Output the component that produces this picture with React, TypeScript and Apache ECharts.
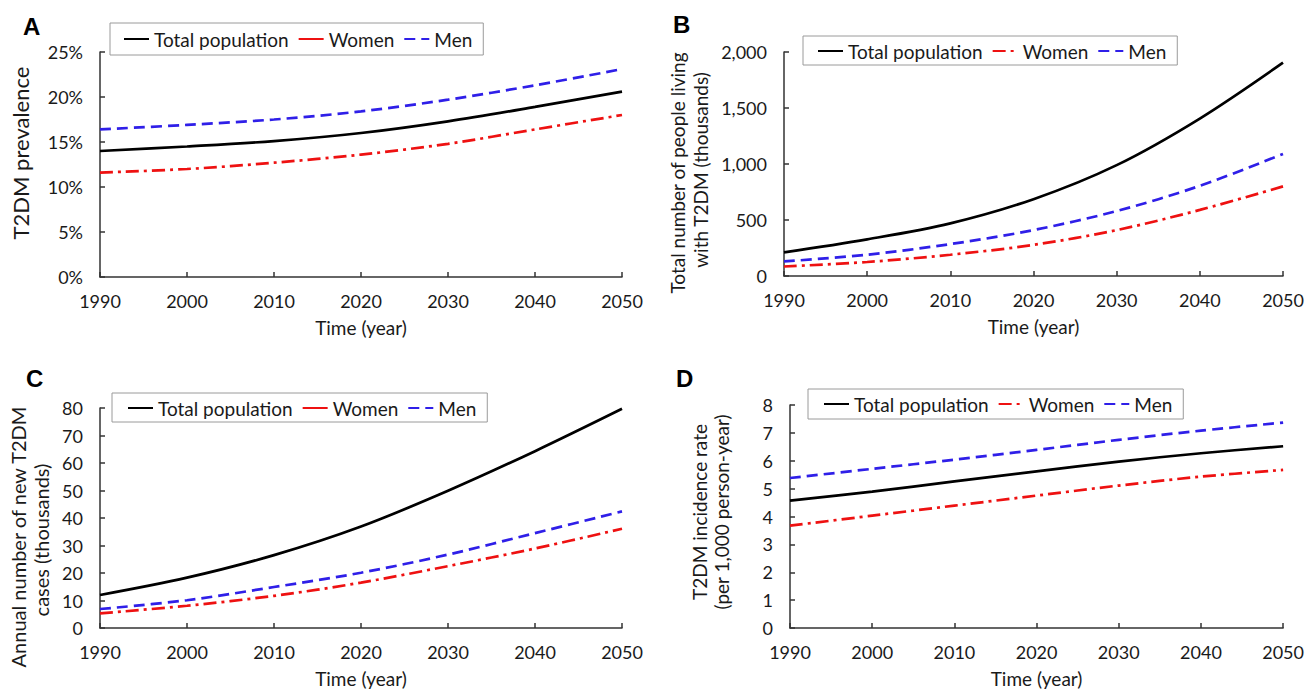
import React, { useEffect, useRef } from "react";
import * as echarts from "echarts";

const YEARS = [1990, 2000, 2010, 2020, 2030, 2040, 2050];

// Panel A: T2DM prevalence (%)
const A_TOTAL = [14.0, 14.5, 15.1, 16.0, 17.3, 18.9, 20.6];
const A_WOMEN = [11.6, 12.0, 12.7, 13.6, 14.8, 16.4, 18.0];
const A_MEN = [16.4, 16.9, 17.5, 18.4, 19.7, 21.3, 23.1];

// Panel B: total number living with T2DM (thousands)
const B_TOTAL = [211, 327, 470, 686, 990, 1406, 1905];
const B_WOMEN = [85, 125, 190, 278, 410, 590, 800];
const B_MEN = [130, 190, 285, 410, 580, 805, 1090];

// Panel C: annual number of new T2DM cases (thousands)
const C_TOTAL = [12.0, 18.3, 26.5, 36.9, 49.9, 64.3, 79.7];
const C_WOMEN = [5.3, 8.1, 11.7, 16.5, 22.5, 28.9, 36.1];
const C_MEN = [6.9, 10.1, 14.9, 20.1, 26.7, 34.5, 42.4];

// Panel D: T2DM incidence rate (per 1,000 person-year)
const D_TOTAL = [4.57, 4.89, 5.26, 5.62, 5.97, 6.27, 6.52];
const D_WOMEN = [3.67, 4.03, 4.39, 4.75, 5.11, 5.43, 5.67];
const D_MEN = [5.38, 5.71, 6.04, 6.39, 6.75, 7.08, 7.37];

const SERIES_NAMES = ["Total population", "Women", "Men"];
const X_TITLE = "Time (year)";

const FONT = "Lato";
const TXT = "#1a1a1a";
const AXIS = "#333";

type Panel = {
  key: string;
  letter: string;
  grid: { left: number; top: number; width: number; height: number };
  yMax: number;
  yInterval: number;
  yFmt: (v: number) => string;
  data: number[][];
  legend: { left: number; top: number; padding: number[]; womenSolid: boolean };
  letterPos: [number, number];
  titleSize: number;
  titles: { text: string; x: number; y: number }[];
};

const PANELS: Panel[] = [
  {
    key: "A",
    letter: "A",
    grid: { left: 100, top: 52, width: 522, height: 225 },
    yMax: 25,
    yInterval: 5,
    yFmt: (v) => `${v}%`,
    data: [A_TOTAL, A_WOMEN, A_MEN],
    legend: { left: 110, top: 23, padding: [6, 11, 6, 13], womenSolid: true },
    letterPos: [23, 26],
    titleSize: 22,
    titles: [{ text: "T2DM prevalence", x: 20, y: 153 }],
  },
  {
    key: "B",
    letter: "B",
    grid: { left: 784, top: 52, width: 499, height: 224 },
    yMax: 2000,
    yInterval: 500,
    yFmt: (v) => v.toLocaleString("en-US"),
    data: [B_TOTAL, B_WOMEN, B_MEN],
    legend: { left: 803, top: 36, padding: [5, 11, 4, 14], womenSolid: false },
    letterPos: [673, 24],
    titleSize: 19,
    titles: [
      { text: "Total number of people living", x: 677, y: 173 },
      { text: "with T2DM (thousands)", x: 700, y: 170 },
    ],
  },
  {
    key: "C",
    letter: "C",
    grid: { left: 100, top: 408, width: 522, height: 220 },
    yMax: 80,
    yInterval: 10,
    yFmt: (v) => `${v}`,
    data: [C_TOTAL, C_WOMEN, C_MEN],
    legend: { left: 112, top: 393, padding: [5, 11, 4, 15], womenSolid: true },
    letterPos: [26, 378],
    titleSize: 20,
    titles: [
      { text: "Annual number of new T2DM", x: 18, y: 537 },
      { text: "cases (thousands)", x: 41, y: 540 },
    ],
  },
  {
    key: "D",
    letter: "D",
    grid: { left: 790, top: 405, width: 496, height: 224 },
    yMax: 8,
    yInterval: 1,
    yFmt: (v) => `${v}`,
    data: [D_TOTAL, D_WOMEN, D_MEN],
    legend: { left: 808, top: 389, padding: [5, 11, 5, 15], womenSolid: false },
    letterPos: [676, 378],
    titleSize: 19,
    titles: [
      { text: "T2DM incidence rate", x: 699, y: 512 },
      { text: "(per 1,000 person-year)", x: 721, y: 512 },
    ],
  },
];

const LINE_STYLES = [
  { color: "#000000", width: 2.7, type: "solid" as any },
  { color: "#ee1111", width: 2.7, type: [13, 5, 3, 5] as any },
  { color: "#2f1fe8", width: 2.7, type: [11, 6] as any },
];

function buildOption() {
  const grids: any[] = [];
  const xAxes: any[] = [];
  const yAxes: any[] = [];
  const series: any[] = [];
  const legends: any[] = [];
  const graphics: any[] = [];

  PANELS.forEach((p, i) => {
    grids.push({ ...p.grid });
    xAxes.push({
      type: "value",
      gridIndex: i,
      min: 1990,
      max: 2050,
      interval: 10,
      name: X_TITLE,
      nameLocation: "middle",
      nameGap: 41,
      nameTextStyle: { fontFamily: FONT, fontSize: 19, color: TXT },
      axisLine: { show: true, lineStyle: { color: AXIS, width: 1.5 } },
      axisTick: { show: true, inside: true, length: 5, lineStyle: { color: AXIS, width: 1.5 } },
      axisLabel: { fontFamily: FONT, fontSize: 18, color: TXT, margin: 15, formatter: (v: number) => `${v}` },
      splitLine: { show: false },
    });
    yAxes.push({
      type: "value",
      gridIndex: i,
      min: 0,
      max: p.yMax,
      interval: p.yInterval,
      axisLine: { show: true, lineStyle: { color: AXIS, width: 1.5 } },
      axisTick: { show: true, inside: true, length: 5, lineStyle: { color: AXIS, width: 1.5 } },
      axisLabel: { fontFamily: FONT, fontSize: 18, color: TXT, margin: 17, formatter: p.yFmt },
      splitLine: { show: false },
    });
    SERIES_NAMES.forEach((n, j) => {
      series.push({
        type: "line",
        name: `${n}#${p.key}`,
        xAxisIndex: i,
        yAxisIndex: i,
        data: YEARS.map((y, k) => [y, p.data[j][k]]),
        smooth: 0.33,
        symbol: "none",
        showSymbol: false,
        lineStyle: { ...LINE_STYLES[j] },
        itemStyle: { color: LINE_STYLES[j].color },
        z: 3 - j,
      });
    });
    legends.push({
      left: p.legend.left,
      top: p.legend.top,
      orient: "horizontal",
      padding: p.legend.padding,
      itemGap: 9,
      itemWidth: 25,
      itemHeight: 14,
      borderColor: "#9a9a9a",
      borderWidth: 1,
      backgroundColor: "#fff",
      selectedMode: false,
      itemStyle: { opacity: 0, borderWidth: 0 },
      formatter: (name: string) => name.split("#")[0],
      textStyle: { fontFamily: FONT, fontSize: 19, color: TXT, lineHeight: 20 },
      data: [
        { name: `Total population#${p.key}` },
        p.legend.womenSolid
          ? { name: `Women#${p.key}`, lineStyle: { type: "solid" } }
          : { name: `Women#${p.key}` },
        { name: `Men#${p.key}` },
      ],
    });
    graphics.push({
      type: "text",
      x: p.letterPos[0],
      y: p.letterPos[1],
      style: {
        text: p.letter,
        font: "bold 24px 'Liberation Sans', Arial, sans-serif",
        fill: "#000",
        textAlign: "left",
        textVerticalAlign: "middle",
        align: "left",
        verticalAlign: "middle",
      },
    });
    p.titles.forEach((t) => {
      graphics.push({
        type: "text",
        x: t.x,
        y: t.y,
        rotation: Math.PI / 2,
        style: {
          text: t.text,
          font: `${p.titleSize}px ${FONT}`,
          fill: TXT,
          textAlign: "center",
          textVerticalAlign: "middle",
          align: "center",
          verticalAlign: "middle",
        },
      });
    });
  });

  return {
    animation: false,
    backgroundColor: "#fff",
    grid: grids,
    xAxis: xAxes,
    yAxis: yAxes,
    legend: legends,
    series,
    graphic: graphics,
  };
}

export default function App() {
  const ref = useRef<HTMLDivElement>(null);
  useEffect(() => {
    document.body.style.margin = "0";
    const chart = echarts.init(ref.current as HTMLDivElement, null, { renderer: "svg" });
    chart.setOption(buildOption() as any);
    return () => chart.dispose();
  }, []);
  return <div ref={ref} style={{ width: 1307, height: 689 }} />;
}
